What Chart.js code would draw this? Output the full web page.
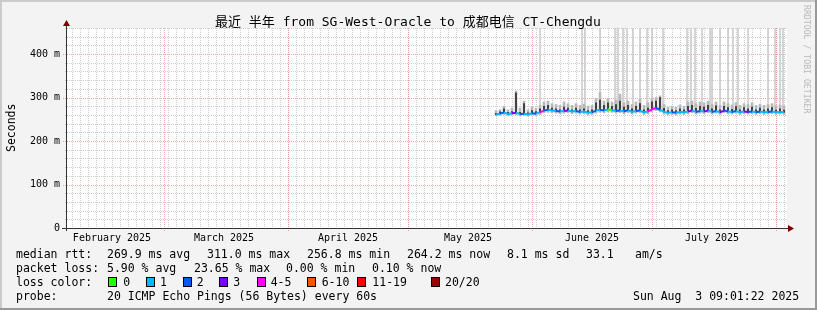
<!DOCTYPE html>
<html><head><meta charset="utf-8">
<script src="https://cdn.jsdelivr.net/npm/chart.js@4.4.0/dist/chart.umd.min.js"></script>
<style>
html,body{margin:0;padding:0;background:#f3f3f3;}
#wrap{position:relative;width:817px;height:310px;overflow:hidden;}
canvas{position:absolute;left:0;top:0;}
.t{position:absolute;white-space:pre;font-family:'DejaVu Sans Mono','Noto Sans CJK SC',monospace;color:#000;line-height:14px;font-size:11.5px;}
.box{position:absolute;width:9px;height:10px;border:1px solid #000;box-sizing:border-box;}
</style></head>
<body>
<div id="wrap">
<canvas id="c" width="817" height="310"></canvas>
<div class="t" style="left:215px;top:15px;font-size:13px;">最近 半年 from SG-West-Oracle to 成都电信 CT-Chengdu</div>
<div class="t" style="left:4px;top:152px;transform:rotate(-90deg);transform-origin:0 0;">Seconds</div>
<div class="t" style="left:812px;top:5px;font-size:8.2px;line-height:10px;color:#b8b8b8;transform:rotate(90deg);transform-origin:0 0;">RRDTOOL / TOBI OETIKER</div>

<div class="t" style="left:16px;top:247px;">median rtt:</div>
<div class="t" style="left:107px;top:247px;">269.9 ms avg</div>
<div class="t" style="left:207px;top:247px;">311.0 ms max</div>
<div class="t" style="left:307px;top:247px;">256.8 ms min</div>
<div class="t" style="left:407px;top:247px;">264.2 ms now</div>
<div class="t" style="left:507px;top:247px;">8.1 ms sd</div>
<div class="t" style="left:586px;top:247px;">33.1</div>
<div class="t" style="left:635px;top:247px;">am/s</div>

<div class="t" style="left:16px;top:261px;">packet loss:</div>
<div class="t" style="left:107px;top:261px;">5.90 % avg</div>
<div class="t" style="left:194px;top:261px;">23.65 % max</div>
<div class="t" style="left:286px;top:261px;">0.00 % min</div>
<div class="t" style="left:372px;top:261px;">0.10 % now</div>

<div class="t" style="left:16px;top:275px;">loss color:</div>
<div id="lossLegend"></div>

<div class="t" style="left:16px;top:289px;">probe:</div>
<div class="t" style="left:107px;top:289px;">20 ICMP Echo Pings (56 Bytes) every 60s</div>
<div class="t" style="left:633px;top:289px;">Sun Aug  3 09:01:22 2025</div>
</div>
<script>
// ---- data (days counted from 2025-02-01) ----
const monthLabels = ['February 2025','March 2025','April 2025','May 2025','June 2025','July 2025'];
const monthStartDays = [0, 28, 59, 89, 120, 150, 181];
const yTickValues = [0, 100, 200, 300, 400];
const firstSampleDay = 111;
const medianRtt = [261,263,266,262,264,265,262,263,261,264,
  263,266,270,272,270,269,268,269,270,268,
  269,267,268,265,266,270,272,270,273,271,
  269,270,268,271,267,269,270,266,268,273,
  276,272,267,265,266,265,267,266,268,270,
  267,269,268,270,267,269,266,270,268,267,
  269,266,268,267,268,266,268,266,267,268,
  266,267,266];
const pingHigh = [264,267,274,266,268,311,266,286,265,270,
  268,274,280,282,276,274,272,278,276,272,
  276,272,274,270,272,288,294,282,288,280,
  284,292,278,282,274,280,286,272,276,290,
  292,300,275,270,272,270,274,272,280,282,
  275,280,278,282,274,281,272,280,277,273,
  279,272,277,274,278,272,276,272,274,277,
  271,274,271];
const pingMin = [258,259,261,258,260,260,258,259,257,260,
  259,261,265,266,265,264,263,264,265,263,
  264,262,263,260,261,264,266,265,267,266,
  264,265,263,265,262,264,265,261,263,267,
  270,267,262,260,261,260,262,261,263,265,
  262,264,263,265,262,264,261,265,263,262,
  264,261,263,262,263,261,263,261,262,263,
  261,262,261];
const pingMax = [270,272,280,272,276,315,276,292,272,278,
  276,282,290,292,286,284,282,290,286,282,
  286,282,285,280,282,298,312,292,298,290,
  294,308,288,292,284,290,296,282,288,298,
  300,304,284,278,280,278,283,280,290,292,
  286,290,288,292,284,290,282,290,286,283,
  288,282,286,284,288,282,285,282,284,286,
  281,283,281];
const lossIdx = [0,1,2,1,1,3,1,2,1,1,
  2,1,4,2,1,1,2,1,3,1,
  1,2,1,1,1,2,1,2,1,0,
  1,2,1,2,1,1,2,1,1,4,
  4,2,1,1,1,2,1,1,1,3,
  1,2,1,3,1,2,1,3,2,1,
  2,1,1,3,2,1,2,1,1,2,
  1,1,1];
const timeoutDays = [122,132.5,133.25,137,140.75,141.5,142.75,143.75,145.25,147,148.75,150,152.75,
  158.75,159.75,160.75,162.5,164.5,165,167,169,170.25,171.5,174,179,180.75,182,182.75];
const timeoutFloor = 272, timeoutTop = 480;
const lossLabels = ['0','1','2','3','4-5','6-10','11-19','20/20'];
const lossColors = ['#26ff00','#00b8ff','#0059ff','#7e00ff','#ff00ff','#ff5500','#ff0000','#a10000'];

// legend boxes
const boxX = [108,146,182.7,219.3,256.7,307.3,357.3,430.7];
const txtX = [123.3,160,196.7,233.3,270.7,321.7,372.3,445];
const lg = document.getElementById('lossLegend');
lossLabels.forEach((l,i)=>{
  const b=document.createElement('div'); b.className='box';
  b.style.left=boxX[i]+'px'; b.style.top='277px'; b.style.background=lossColors[i]; lg.appendChild(b);
  const t=document.createElement('div'); t.className='t'; t.textContent=l;
  t.style.left=txtX[i]+'px'; t.style.top='275px'; lg.appendChild(t);
});

const xMin = 3.75, xMax = 183.75;
const day = i => firstSampleDay + i;

const gridPlugin = {
  id:'rrdgrid',
  beforeDraw(chart){
    const {ctx, chartArea:a} = chart;
    ctx.save();
    ctx.fillStyle='#f3f3f3'; ctx.fillRect(0,0,817,310);
    ctx.fillStyle='#cbcbcb'; ctx.fillRect(0,0,817,2); ctx.fillRect(0,0,2,310);
    ctx.fillStyle='#999999'; ctx.fillRect(0,308,817,2); ctx.fillRect(815,0,2,310);
    ctx.fillStyle='#ffffff'; ctx.fillRect(a.left,a.top,a.right-a.left,a.bottom-a.top);
    ctx.restore();
  },
  beforeDatasetsDraw(chart){
    const {ctx, chartArea:a, scales:{x,y}} = chart;
    ctx.save();
    ctx.lineWidth=1; ctx.setLineDash([1,1]);
    ctx.strokeStyle='rgba(190,190,190,0.75)';
    for(let d=5; d<=xMax; d+=2){
      const px=Math.round(x.getPixelForValue(d))+0.5;
      if(px<=a.left+1||px>=a.right) continue;
      ctx.beginPath(); ctx.moveTo(px,a.top); ctx.lineTo(px,a.bottom+2); ctx.stroke();
    }
    for(let v=20; v<=460; v+=20){
      if(v%100===0) continue;
      const py=Math.round(y.getPixelForValue(v))+0.5;
      ctx.beginPath(); ctx.moveTo(a.left-2,py); ctx.lineTo(a.right,py); ctx.stroke();
    }
    ctx.strokeStyle='rgba(240,110,110,0.6)';
    monthStartDays.forEach(d=>{
      const px=Math.round(x.getPixelForValue(d))+0.5;
      if(px<=a.left+1||px>=a.right) return;
      ctx.beginPath(); ctx.moveTo(px,a.top); ctx.lineTo(px,a.bottom+3); ctx.stroke();
    });
    for(let v=100; v<=400; v+=100){
      const py=Math.round(y.getPixelForValue(v))+0.5;
      ctx.beginPath(); ctx.moveTo(a.left-4,py); ctx.lineTo(a.right,py); ctx.stroke();
    }
    ctx.restore();
  },
  afterDatasetsDraw(chart){
    const {ctx, chartArea:a} = chart;
    ctx.save();
    ctx.strokeStyle='#333'; ctx.lineWidth=1;
    const ax=Math.round(a.left)-0.5, ay=Math.round(a.bottom)+0.5;
    ctx.beginPath(); ctx.moveTo(a.left-5,ay); ctx.lineTo(a.right+3,ay); ctx.stroke();
    ctx.beginPath(); ctx.moveTo(ax,a.bottom+3); ctx.lineTo(ax,a.top-5); ctx.stroke();
    ctx.fillStyle='#7f0000';
    ctx.beginPath(); ctx.moveTo(a.right+1,ay-3.5); ctx.lineTo(a.right+7,ay); ctx.lineTo(a.right+1,ay+3.5); ctx.closePath(); ctx.fill();
    ctx.beginPath(); ctx.moveTo(ax-3.5,a.top-2); ctx.lineTo(ax,a.top-8); ctx.lineTo(ax+3.5,a.top-2); ctx.closePath(); ctx.fill();
    ctx.restore();
  }
};

new Chart(document.getElementById('c'), {
  type:'bar',
  data:{
    datasets:[
      { type:'bar', label:'timeouts', order:4, grouped:false, barThickness:1,
        backgroundColor:'#cdcdcd', clip:0,
        data: timeoutDays.map(d=>({x:d, y:[timeoutFloor, timeoutTop]})) },
      { type:'bar', label:'smoke', order:3, grouped:false, barThickness:2,
        backgroundColor:'#b8b8b8', clip:0,
        data: pingMax.map((v,i)=>({x:day(i), y:[pingMin[i], v]})) },
      { type:'bar', label:'dense smoke', order:2, grouped:false, barThickness:1,
        backgroundColor:'#2a2a2a', clip:0,
        data: pingHigh.map((v,i)=>({x:day(i), y:[medianRtt[i], v]})) },
      { type:'line', label:'median', order:1, borderWidth:2, pointRadius:0, tension:0,
        borderColor:lossColors[1], clip:0,
        segment:{ borderColor: c => lossColors[lossIdx[c.p1DataIndex]] },
        data: medianRtt.map((v,i)=>({x:day(i), y:v})) }
    ]
  },
  options:{
    responsive:false, animation:false,
    layout:{padding:{left:0,top:28,right:30,bottom:0}},
    plugins:{legend:{display:false}, tooltip:{enabled:false}},
    scales:{
      x:{ type:'linear', min:xMin, max:xMax, offset:false,
        grid:{display:false, drawTicks:false, tickLength:0}, border:{display:false},
        afterFit: s => { s.height = 82; },
        afterBuildTicks: s => { s.ticks = monthStartDays.slice(0,6).map(d=>({value:d+15})); },
        ticks:{ autoSkip:false, maxRotation:0, padding:4, color:'#000',
          font:{family:'DejaVu Sans Mono', size:10},
          callback:(v,i)=>monthLabels[i] } },
      y:{ type:'linear', min:0, max:460,
        grid:{display:false, drawTicks:false, tickLength:0}, border:{display:false},
        afterFit: s => { s.width = 67; },
        afterBuildTicks: s => { s.ticks = yTickValues.map(v=>({value:v})); },
        ticks:{ padding:7, color:'#000', font:{family:'DejaVu Sans Mono', size:10},
          callback: v => v===0 ? '0' : v+' m' } }
    }
  },
  plugins:[gridPlugin]
});
</script>
</body></html>
